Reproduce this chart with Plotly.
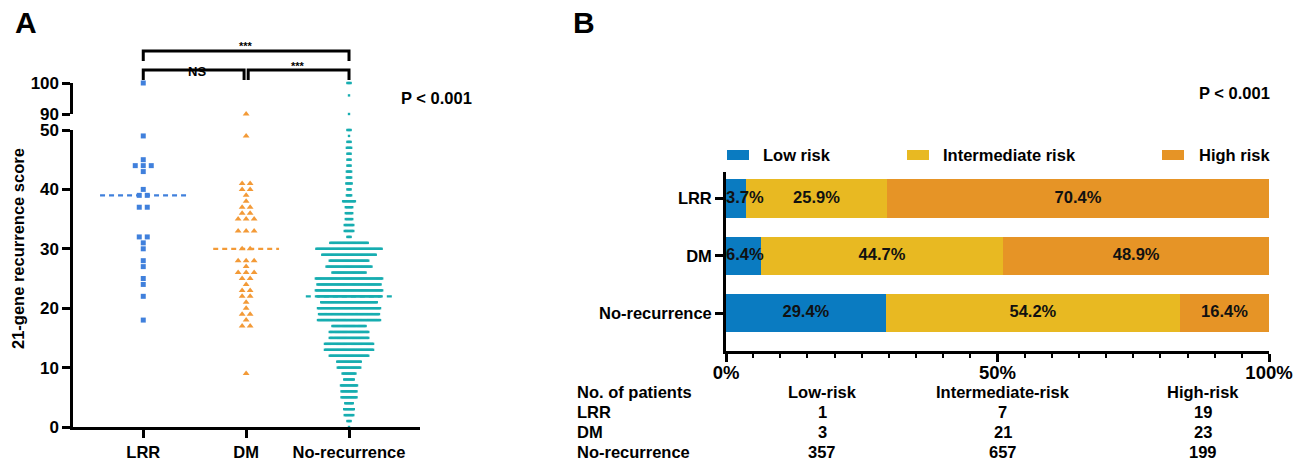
import plotly.graph_objects as go

W, H = 1304, 464
def px(x):
    return x / W
def py(y):
    return 1 - y / H

FONT = "Liberation Sans, Arial, Helvetica, sans-serif"

# ---------------- data ----------------
groups = ["LRR", "DM", "No-recurrence"]

lrr_scores = [100, 49, 45, 44, 44, 44, 43, 40, 39, 39, 37, 37, 32, 32, 31, 30,
              28, 27, 25, 24, 22, 18]
dm_scores = [90, 49, 41, 41, 40, 40, 39, 38, 37, 37, 36, 36, 35, 35, 35, 33, 33, 33,
             30, 30, 28, 28, 28, 27, 26, 26, 26, 25, 25, 24, 23, 23, 22, 22, 21, 20,
             19, 19, 18, 17, 17, 9]
nr_score_levels = [100, 96, 90, 50, 49, 48, 47, 46, 45, 44, 43, 42, 41, 40, 39, 38,
                   37, 36, 35, 34, 33, 32, 31, 30, 29, 28, 27, 26, 25, 24, 23, 22,
                   21, 20, 19, 18, 17, 16, 15, 14, 13, 12, 11, 10, 9, 8, 7, 6, 5,
                   4, 3, 2, 1, 0]
nr_score_counts = [4, 1, 1, 4, 1, 4, 5, 4, 4, 4, 5, 5, 6, 4, 5, 12,
                   7, 7, 7, 9, 9, 4, 36, 62, 51, 37, 43, 32, 63, 60, 63, 60,
                   53, 59, 57, 59, 32, 37, 37, 46, 46, 37, 23, 22, 13, 10, 16, 15, 15,
                   8, 10, 9, 4, 1]
medians = [39, 30, 22]
yticks_lower = [0, 10, 20, 30, 40, 50]
yticks_upper = [90, 100]

risk_levels = ["Low risk", "Intermediate risk", "High risk"]
table_headers = ["Low-risk", "Intermediate-risk", "High-risk"]
counts_low = [1, 3, 357]
counts_inter = [7, 21, 657]
counts_high = [19, 23, 199]
xticks_b = [0, 50, 100]
xticklabels_b = ["0%", "50%", "100%"]

sig_labels = ["***", "NS", "***"]
p_text = "P < 0.001"

# ---------------- styling ----------------
point_colors = ["#4080dc", "#f39a37", "#17adb0"]
risk_colors = ["#0a7bc1", "#e8b922", "#e69426"]

# panel A geometry
xa_left, xa_right = 73.3, 420
xa_range = [0.32, 3.69]
unit = (xa_right - xa_left) / (xa_range[1] - xa_range[0])


def swarm(scores, center, step_px):
    cnt = {}
    for s in scores:
        cnt[s] = cnt.get(s, 0) + 1
    xs, ys = [], []
    for s, n in cnt.items():
        for i in range(n):
            xs.append(center + (i - (n - 1) / 2) * step_px / unit)
            ys.append(s)
    return xs, ys


def swarm_counts(levels, counts, center, step_px):
    xs, ys = [], []
    for s, n in zip(levels, counts):
        for i in range(n):
            xs.append(center + (i - (n - 1) / 2) * step_px / unit)
            ys.append(s)
    return xs, ys


fig = go.Figure()

# median lines (drawn under points)
half_w = [0.42, 0.32, 0.42]
for gi, med in enumerate(medians):
    c = gi + 1
    fig.add_trace(go.Scatter(
        x=[c - half_w[gi], c + half_w[gi]], y=[med, med], mode="lines",
        line=dict(color=point_colors[gi], width=2.2, dash="5px,4px"),
        xaxis="x", yaxis="y", showlegend=False, hoverinfo="skip"))

sets = [
    swarm(lrr_scores, 1, 8),
    swarm(dm_scores, 2, 8),
    swarm_counts(nr_score_levels, nr_score_counts, 3, 1.07),
]
symbols = ["square", "triangle-up", "square"]
sizes = [5, 6, 2.4]
for gi, (xs, ys) in enumerate(sets):
    lo = [(x, y) for x, y in zip(xs, ys) if y < 90]
    hi = [(x, y) for x, y in zip(xs, ys) if y >= 90]
    for pts, yax in ((lo, "y"), (hi, "y2")):
        if not pts:
            continue
        fig.add_trace(go.Scatter(
            x=[p[0] for p in pts], y=[p[1] for p in pts], mode="markers",
            marker=dict(symbol=symbols[gi], size=sizes[gi], color=point_colors[gi],
                        line=dict(width=0)),
            xaxis="x", yaxis=yax, showlegend=False, cliponaxis=False,
            hoverinfo="skip"))

# ---------------- panel B bars ----------------
totals = [a + b + c for a, b, c in zip(counts_low, counts_inter, counts_high)]
pcts = [
    [100 * v / t for v, t in zip(counts_low, totals)],
    [100 * v / t for v, t in zip(counts_inter, totals)],
    [100 * v / t for v, t in zip(counts_high, totals)],
]
for ri in range(3):
    fig.add_trace(go.Bar(
        y=groups, x=pcts[ri], orientation="h", width=0.67,
        marker=dict(color=risk_colors[ri], line=dict(width=0)),
        name=risk_levels[ri], xaxis="x2", yaxis="y3", showlegend=False,
        hoverinfo="skip"))

# bar labels
lab_x, lab_y, lab_t, lab_pos = [], [], [], []
for gi, g in enumerate(groups):
    cum = 0
    for ri in range(3):
        p = pcts[ri][gi]
        if p < 10:
            lab_x.append(cum)
            lab_pos.append("middle right")
        else:
            lab_x.append(cum + p / 2)
            lab_pos.append("middle center")
        lab_y.append(g)
        lab_t.append(f"{p:.1f}%")
        cum += p
fig.add_trace(go.Scatter(
    x=lab_x, y=lab_y, text=lab_t, mode="text", textposition=lab_pos,
    textfont=dict(family=FONT, size=16.5, color="#111", weight=700),
    xaxis="x2", yaxis="y3", showlegend=False, cliponaxis=False, hoverinfo="skip"))

axis_font = dict(family=FONT, size=16.5, color="black", weight=700)
common = dict(automargin=False, showgrid=False, zeroline=False, showline=True,
              linecolor="black", tickcolor="black", ticks="outside")

fig.update_layout(
    width=W, height=H, margin=dict(l=0, r=0, t=0, b=0, pad=0, autoexpand=False),
    paper_bgcolor="white", plot_bgcolor="rgba(0,0,0,0)",
    barmode="stack", bargap=0.33, showlegend=False,
    font=dict(family=FONT, color="black"),
    xaxis=dict(domain=[px(xa_left), px(xa_right)], range=xa_range, anchor="y",
               tickvals=[1, 2, 3], ticktext=groups, ticklen=8,
               tickwidth=2.8, linewidth=2.8, tickfont=axis_font, **common),
    yaxis=dict(domain=[py(427), py(130)], range=[0, 50], anchor="x",
               tickvals=yticks_lower, ticklen=8, tickwidth=2.8, linewidth=2.8,
               tickfont=dict(family=FONT, size=17, color="black", weight=700),
               **common),
    yaxis2=dict(domain=[py(114), py(83)], range=[90, 100], anchor="x",
                tickvals=yticks_upper, ticklen=8, tickwidth=2.8, linewidth=2.8,
                tickfont=dict(family=FONT, size=17, color="black", weight=700),
                **common),
    xaxis2=dict(domain=[px(726), px(1269)], range=[0, 100], anchor="y3",
                tickvals=xticks_b, ticktext=xticklabels_b,
                ticklen=8, tickwidth=2.6, linewidth=2.8, ticklabelstandoff=-5,
                minor=dict(dtick=5, ticks="outside", ticklen=4, tickwidth=2.2,
                           tickcolor="black", showgrid=False),
                tickfont=dict(family=FONT, size=18.5, color="black", weight=700),
                **common),
    yaxis3=dict(domain=[py(351), py(172)], type="category",
                categoryorder="array", categoryarray=groups, range=[2.66, -0.46],
                anchor="x2", ticklen=8, tickwidth=2.8, linewidth=2.8,
                tickfont=axis_font, **common),
)

ann = []
def text(x, y, s, size=16.5, xanchor="center", angle=0, weight=700):
    ann.append(dict(x=px(x), y=py(y), xref="paper", yref="paper", text=s,
                    showarrow=False, xanchor=xanchor, yanchor="middle",
                    textangle=angle,
                    font=dict(family=FONT, size=size, color="black", weight=weight)))

text(26, 22, "A", size=30)
text(584, 22, "B", size=30)
text(18, 249, "21-gene recurrence score", size=16.5, angle=-90)
text(399, 98, p_text, xanchor="left")
text(1197, 93, p_text, xanchor="left")

# significance labels
ann.append(dict(x=2, y=py(38), xref="x", yref="paper", text=sig_labels[0],
                showarrow=False, font=dict(family=FONT, size=11, weight=700)))
ann.append(dict(x=1.52, y=py(62), xref="x", yref="paper", text=sig_labels[1],
                showarrow=False, font=dict(family=FONT, size=13, weight=700)))
ann.append(dict(x=2.5, y=py(58), xref="x", yref="paper", text=sig_labels[2],
                showarrow=False, font=dict(family=FONT, size=11, weight=700)))

# legend (manual)
leg_sw = [727, 907, 1162]
leg_tx = [761, 941, 1197]
shapes = []
for i in range(3):
    shapes.append(dict(type="rect", xref="paper", yref="paper",
                       x0=px(leg_sw[i]), x1=px(leg_sw[i] + 22), y0=py(160), y1=py(150),
                       fillcolor=risk_colors[i], line=dict(width=0)))
    text(leg_tx[i], 155, risk_levels[i], xanchor="left")

# table
col_x = [822, 1003, 1203]
row_y = [392, 412, 432, 452]
text(575, row_y[0], "No. of patients", xanchor="left")
for ci, h in enumerate(table_headers):
    text(col_x[ci], row_y[0], h)
for gi, g in enumerate(groups):
    text(575, row_y[gi + 1], g, xanchor="left")
    for ci, arr in enumerate([counts_low, counts_inter, counts_high]):
        text(col_x[ci], row_y[gi + 1], str(arr[gi]))

# brackets
lw = 3
def bracket(x0, x1, ytop, ybot):
    shapes.append(dict(type="path", xref="x", yref="paper",
                       path=f"M {x0},{py(ybot)} L {x0},{py(ytop)} L {x1},{py(ytop)} L {x1},{py(ybot)}",
                       line=dict(color="black", width=lw)))
bracket(1, 3, 51, 61)
bracket(1, 1.98, 70, 80)
bracket(2.02, 3, 70, 80)

fig.update_layout(annotations=ann, shapes=shapes)
fig.write_html("out.html", config={"displayModeBar": False},
               post_script="document.body.style.margin='0';document.body.style.overflow='hidden';")
